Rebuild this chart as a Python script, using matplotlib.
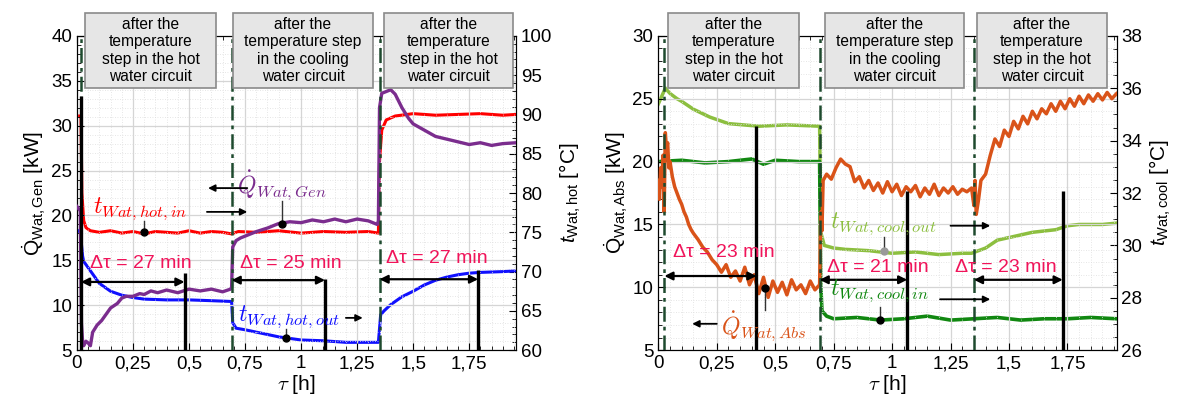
import matplotlib
matplotlib.use("Agg")
import matplotlib.pyplot as plt
from matplotlib.patches import Rectangle
from matplotlib.ticker import MultipleLocator, FuncFormatter

plt.rcParams['font.family'] = ['Liberation Sans', 'DejaVu Sans']
plt.rcParams['mathtext.fontset'] = 'custom'
plt.rcParams['mathtext.rm'] = 'Liberation Sans'
plt.rcParams['mathtext.it'] = 'Liberation Sans:italic'

# ---------------- left panel data ----------------
# hot water inlet temperature [°C]
hot_in_t = [0, 0.018, 0.022, 0.03, 0.04, 0.06, 0.1, 0.15, 0.2, 0.25, 0.3, 0.35, 0.4, 0.45, 0.5,
            0.55, 0.6, 0.65, 0.69, 0.72, 0.8, 0.9, 1.0, 1.1, 1.2, 1.3, 1.345, 1.35, 1.36, 1.38,
            1.42, 1.5, 1.6, 1.7, 1.8, 1.9, 1.96]
hot_in_v = [89.8, 89.8, 80.0, 76.5, 75.6, 75.2, 75.0, 75.2, 74.9, 75.1, 74.8, 75.1, 75.0, 74.9, 75.2,
            74.9, 75.1, 75.0, 74.8, 75.1, 75.0, 75.2, 74.9, 75.1, 75.0, 75.1, 74.9, 84.0, 88.0, 89.3,
            89.8, 90.1, 89.9, 90.0, 90.1, 89.9, 90.0]
# hot water outlet temperature [°C]
hot_out_t = [0, 0.015, 0.025, 0.03, 0.05, 0.08, 0.1, 0.15, 0.2, 0.25, 0.3, 0.4, 0.5, 0.6, 0.69,
             0.695, 0.71, 0.75, 0.8, 0.9, 1.0, 1.1, 1.2, 1.3, 1.345, 1.355, 1.37, 1.4, 1.45, 1.5,
             1.55, 1.6, 1.65, 1.7, 1.75, 1.8, 1.9, 1.96]
hot_out_v = [75.3, 75.0, 72.0, 71.3, 70.5, 69.3, 68.5, 67.5, 67.0, 66.7, 66.5, 66.4, 66.4, 66.3, 66.2,
             63.5, 62.8, 62.6, 62.3, 61.7, 61.3, 61.2, 61.0, 61.0, 61.0, 64.5, 65.0, 65.8, 66.8, 67.5,
             68.3, 68.9, 69.3, 69.6, 69.8, 69.9, 70.0, 70.1]
# generator heat flow [kW]
q_gen_t = [0, 0.015, 0.02, 0.025, 0.03, 0.04, 0.05, 0.06, 0.07, 0.09, 0.11, 0.13, 0.15, 0.18, 0.2,
           0.22, 0.25, 0.28, 0.3, 0.33, 0.36, 0.4, 0.45, 0.5, 0.55, 0.6, 0.65, 0.685, 0.69, 0.695,
           0.71, 0.73, 0.76, 0.8, 0.85, 0.9, 0.95, 1.0, 1.05, 1.1, 1.15, 1.2, 1.25, 1.3, 1.34,
           1.345, 1.35, 1.36, 1.38, 1.4, 1.42, 1.45, 1.48, 1.5, 1.55, 1.6, 1.65, 1.7, 1.75, 1.8,
           1.85, 1.9, 1.96]
q_gen_v = [21.0, 20.5, 8.0, 6.0, 5.5, 6.0, 5.8, 5.5, 7.0, 7.8, 8.3, 9.0, 9.7, 10.2, 10.8,
           11.0, 11.0, 11.3, 11.2, 11.6, 11.4, 11.7, 11.4, 11.8, 11.6, 11.8, 11.5, 11.8, 12.0, 16.5,
           17.2, 17.5, 17.8, 18.2, 18.6, 19.1, 19.3, 19.2, 19.5, 19.3, 19.6, 19.3, 19.6, 19.4, 19.0,
           19.4, 32.0, 33.6, 33.8, 34.0, 33.5, 32.0, 30.8, 30.2, 29.5, 28.8, 28.5, 28.2, 27.9, 28.1,
           27.8, 28.0, 28.1]

# ---------------- right panel data ----------------
# cooling water outlet temperature [°C]
cool_out_t = [0, 0.02, 0.03, 0.05, 0.08, 0.1, 0.15, 0.22, 0.3, 0.43, 0.55, 0.69, 0.695, 0.71, 0.75,
              0.8, 0.9, 1.0, 1.1, 1.2, 1.3, 1.34, 1.4, 1.45, 1.5, 1.6, 1.7, 1.75, 1.8, 1.9, 1.96]
cool_out_v = [35.4, 35.8, 36.0, 35.8, 35.6, 35.5, 35.2, 34.9, 34.65, 34.55, 34.6, 34.55, 30.5, 30.0, 29.9,
              29.85, 29.8, 29.7, 29.75, 29.65, 29.7, 29.7, 29.9, 30.2, 30.3, 30.5, 30.6, 30.75, 30.8, 30.8, 30.85]
# cooling water inlet temperature [°C]
cool_in_t = [0, 0.1, 0.2, 0.3, 0.4, 0.45, 0.5, 0.6, 0.69, 0.695, 0.7, 0.72, 0.75, 0.85, 0.95, 1.05,
             1.15, 1.25, 1.35, 1.45, 1.55, 1.65, 1.75, 1.85, 1.96]
cool_in_v = [33.2, 33.25, 33.15, 33.2, 33.3, 33.1, 33.25, 33.2, 33.2, 28.5, 27.5, 27.3, 27.2, 27.25, 27.15, 27.2,
             27.3, 27.15, 27.2, 27.25, 27.15, 27.2, 27.2, 27.25, 27.2]
# absorber heat flow [kW]
q_abs_t = [0, 0.005, 0.01, 0.015, 0.02, 0.025, 0.03, 0.035, 0.04, 0.045, 0.05, 0.06, 0.07, 0.08, 0.09,
           0.1, 0.11, 0.12, 0.13, 0.14, 0.15, 0.17, 0.19, 0.21, 0.23, 0.25, 0.27, 0.29, 0.31, 0.33,
           0.35, 0.37, 0.39, 0.41, 0.43, 0.45, 0.47, 0.49, 0.51, 0.53, 0.55, 0.57, 0.59, 0.61, 0.63,
           0.65, 0.67, 0.69, 0.695, 0.7, 0.705, 0.72, 0.74, 0.76, 0.78, 0.8, 0.82, 0.84, 0.86, 0.88,
           0.9, 0.92, 0.94, 0.96, 0.98, 1.0, 1.02, 1.04, 1.06, 1.08, 1.1, 1.12, 1.14, 1.16, 1.18,
           1.2, 1.22, 1.24, 1.26, 1.28, 1.3, 1.32, 1.34, 1.35, 1.355, 1.36, 1.37, 1.38, 1.4, 1.42,
           1.44, 1.46, 1.48, 1.5, 1.52, 1.54, 1.56, 1.58, 1.6, 1.62, 1.64, 1.66, 1.68, 1.7, 1.72,
           1.74, 1.76, 1.78, 1.8, 1.82, 1.84, 1.86, 1.88, 1.9, 1.92, 1.94, 1.96]
q_abs_v = [18.5, 17.0, 19.5, 18.0, 20.5, 16.0, 22.3, 21.0, 21.5, 19.5, 20.0, 18.8, 18.0, 17.5, 17.0,
           16.6, 16.0, 15.6, 15.0, 14.6, 14.3, 13.8, 13.2, 12.8, 12.2, 11.8, 11.2, 11.8, 10.8, 11.3,
           10.5, 11.6, 10.2, 11.0, 9.5, 10.8, 9.2, 10.5, 9.6, 10.4, 9.4, 10.6, 9.8, 10.2, 9.5,
           10.5, 9.8, 10.2, 16.0, 14.5, 18.5, 19.0, 18.6, 19.5, 20.2, 19.8, 19.6, 18.4, 18.8, 17.9,
           18.5, 17.7, 18.3, 17.5, 18.4, 17.6, 18.2, 17.3, 18.0, 17.6, 18.1, 17.2, 17.9, 17.4, 18.2,
           17.3, 17.9, 17.5, 18.0, 17.4, 17.8, 17.6, 17.9, 16.5, 18.5, 15.8, 17.0, 18.5, 19.0, 20.5,
           21.8, 21.2, 22.5, 22.0, 23.2, 22.6, 23.6, 23.0, 24.0, 23.4, 24.2, 23.8, 24.6, 24.0, 24.8,
           24.2, 25.0, 24.4, 25.2, 24.6, 25.3, 24.8, 25.4, 24.9, 25.5, 25.0, 25.4]

# step times and end-of-transient markers [h]
steps_left = [0.018, 0.69, 1.35]
steps_right = [0.026, 0.69, 1.35]
ends_left = [0.48, 1.107, 1.79]
ends_left_top = [13.6, 12.9, 13.9]
ends_right = [0.42, 1.065, 1.73]
ends_right_top = [22.8, 17.7, 17.7]
dtau_left = ['27', '25', '27']
dtau_right = ['23', '21', '23']
box_labels = ['after the\ntemperature\nstep in the hot\nwater circuit',
              'after the\ntemperature step\nin the cooling\nwater circuit',
              'after the\ntemperature\nstep in the hot\nwater circuit']
# header box extents in pixels (left, right)
box_x_left = [(85, 216), (233, 373), (384, 513)]
box_x_right = [(668, 799), (825, 964), (977, 1107)]

RED, BLUE, PURPLE = '#ff0000', '#1010ff', '#7b2d8e'
ORANGE, LGREEN, DGREEN = '#d95319', '#8cbf3f', '#118811'
PINK = '#f0145a'
STEPC = '#1e4a2e'

W, H = 1184, 412
fig = plt.figure(figsize=(W / 100, H / 100), dpi=100)
axL = fig.add_axes([0.065, 0.150, 0.371, 0.763])
axR = fig.add_axes([0.556, 0.150, 0.387, 0.763])
axL2 = axL.twinx()
axR2 = axR.twinx()

comma = FuncFormatter(lambda v, p: ('%g' % v).replace('.', ','))

for ax in (axL, axR):
    ax.set_xlim(0, 1.96)
    ax.xaxis.set_major_locator(MultipleLocator(0.25))
    ax.xaxis.set_minor_locator(MultipleLocator(0.05))
    ax.xaxis.set_major_formatter(comma)
    ax.yaxis.set_major_locator(MultipleLocator(5))
    ax.yaxis.set_minor_locator(MultipleLocator(1))
    ax.grid(True, which='major', color='#d5d5d5', lw=0.9)
    ax.grid(True, which='minor', color='#dedede', lw=0.6, ls=(0, (1, 2)))
    ax.tick_params(which='both', direction='in', top=True, labelsize=13.5)
    ax.tick_params(which='major', length=5)
    ax.tick_params(which='minor', length=3)
    ax.set_xlabel(r'$\tau$ [h]', fontsize=15, math_fontfamily='cm', labelpad=1)
for ax in (axL2, axR2):
    ax.tick_params(which='both', direction='in', labelsize=13.5)
    ax.tick_params(which='major', length=5)
    ax.tick_params(which='minor', length=3)

axL.set_ylim(5, 40)
axL2.set_ylim(60, 100)
axL2.yaxis.set_major_locator(MultipleLocator(5))
axL2.yaxis.set_minor_locator(MultipleLocator(1))
axR.set_ylim(5, 30)
axR2.set_ylim(26, 38)
axR2.yaxis.set_major_locator(MultipleLocator(2))
axR2.yaxis.set_minor_locator(MultipleLocator(0.5))

axL.set_ylabel(r'$\dot{\mathrm{Q}}_{\mathrm{Wat,Gen}}$ [kW]', fontsize=15, labelpad=2)
axL2.set_ylabel(r'$t_{\mathrm{Wat,hot}}$ [°C]', fontsize=15, labelpad=4)
axR.set_ylabel(r'$\dot{\mathrm{Q}}_{\mathrm{Wat,Abs}}$ [kW]', fontsize=15, labelpad=2)
axR2.set_ylabel(r'$t_{\mathrm{Wat,cool}}$ [°C]', fontsize=15, labelpad=4)

# ---- left panel curves ----
axL.plot(q_gen_t, q_gen_v, color=PURPLE, lw=2.4, zorder=3)
axL2.plot(hot_in_t, hot_in_v, color=RED, lw=2.2, zorder=3)
axL2.plot(hot_out_t, hot_out_v, color=BLUE, lw=2.2, zorder=3)

# ---- right panel curves ----
axR.plot(q_abs_t, q_abs_v, color=ORANGE, lw=2.5, zorder=3)
axR2.plot(cool_out_t, cool_out_v, color=LGREEN, lw=2.5, zorder=3)
axR2.plot(cool_in_t, cool_in_v, color=DGREEN, lw=2.6, zorder=3)

for ax, steps, ends, tops, dts, arr_y, txt_pos in [
        (axL, steps_left, ends_left, ends_left_top, dtau_left, [12.6, 12.8, 12.9],
         [(0.058, 14.7), (0.728, 14.7), (1.38, 15.25)]),
        (axR, steps_right, ends_right, ends_right_top, dtau_right, [10.9, 10.6, 10.6],
         [(0.064, 12.8), (0.72, 11.6), (1.27, 11.6)])]:
    for s in steps:
        ax.axvline(s, color=STEPC, lw=1.8, ls=(0, (6, 2, 1.5, 2)), zorder=4)
    ax.vlines(ends, ax.get_ylim()[0], tops, color='black', lw=2.4, zorder=5)
    for s, e, d, ay, (tx, ty) in zip(steps, ends, dts, arr_y, txt_pos):
        ax.annotate('', xy=(e, ay), xytext=(s, ay),
                    arrowprops=dict(arrowstyle='<|-|>', color='black', lw=1.6,
                                    mutation_scale=12, shrinkA=0, shrinkB=0), zorder=6)
        ax.text(tx, ty, '\u0394\u03c4 = %s min' % d, color=PINK, fontsize=14,
                va='center', ha='left', zorder=6)

# grey header boxes above the axes
for (x0, x1), lab in zip(box_x_left + box_x_right, box_labels + box_labels):
    y0, y1 = 88, 13
    fig.patches.append(Rectangle((x0 / W, 1 - y0 / H), (x1 - x0) / W, (y0 - y1) / H,
                                 transform=fig.transFigure, fc='#e6e6e6', ec='#8a8a8a',
                                 lw=1.2, zorder=10))
    fig.text((x0 + x1) / 2 / W, 1 - (y0 + y1) / 2 / H, lab, ha='center', va='center',
             fontsize=11.2, linespacing=1.18, zorder=11)

# start marker on left panel
axL.vlines([0.018], 5, 33.3, color='black', lw=2.4, zorder=5)

def label(ax, x, y, txt, color, arrow=None, ptr=None, dotc='black'):
    ax.text(x, y, txt, color=color, fontsize=17, math_fontfamily='cm',
            ha='left', va='center', zorder=7)
    if arrow is not None:
        x0, x1, ay = arrow
        ax.annotate('', xy=(x1, ay), xytext=(x0, ay),
                    arrowprops=dict(arrowstyle='-|>', color='black', lw=1.3,
                                    mutation_scale=10, shrinkA=0, shrinkB=0), zorder=7)
    if ptr is not None:
        px, py0, py1 = ptr
        ax.plot([px, px], [py1, py0], color='#333333', lw=1.0, zorder=7)
        ax.plot([px], [py0], 'o', color=dotc, ms=5, zorder=8)

label(axL, 0.07, 20.8, r'$t_{Wat,hot,in}$', RED, arrow=(0.58, 0.76, 20.4),
      ptr=(0.30, 18.15, 19.4))
label(axL, 0.714, 23.3, r'$\dot{Q}_{Wat,Gen}$', PURPLE, arrow=(0.76, 0.585, 23.05),
      ptr=(0.915, 19.0, 21.6))
label(axL, 0.72, 8.7, r'$t_{Wat,hot,out}$', BLUE, arrow=(1.2, 1.275, 8.6),
      ptr=(0.933, 6.33, 7.4))
label(axR, 0.27, 6.9, r'$\dot{Q}_{Wat,Abs}$', ORANGE, arrow=(0.25, 0.145, 7.1),
      ptr=(0.457, 9.94, 8.2))
label(axR, 0.735, 15.1, r'$t_{Wat,cool,out}$', LGREEN, arrow=(1.25, 1.42, 14.9),
      ptr=(0.966, 12.9, 14.0), dotc='#999999')
label(axR, 0.735, 9.7, r'$t_{Wat,cool,in}$', DGREEN, arrow=(1.205, 1.42, 9.05),
      ptr=(0.95, 7.4, 8.4))

for ax, twin in ((axL, axL2), (axR, axR2)):
    ax.set_zorder(twin.get_zorder() + 1)
    ax.patch.set_visible(False)

fig.savefig('out.png', dpi=100)
